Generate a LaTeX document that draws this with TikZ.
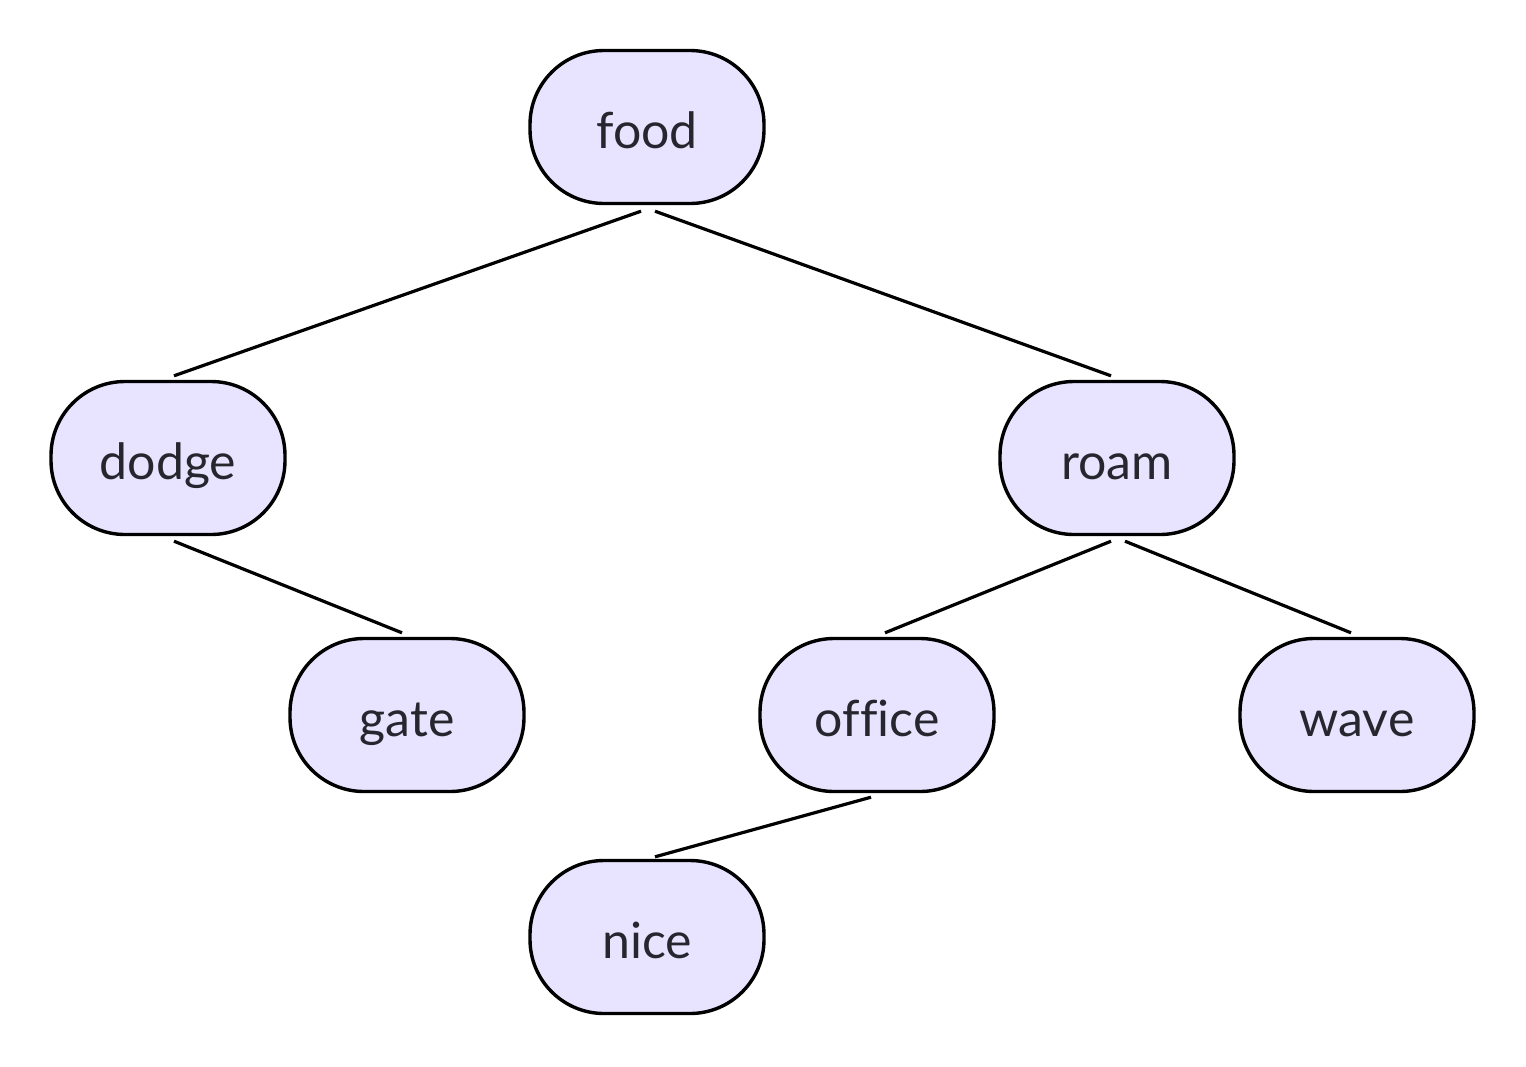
\documentclass[tikz,border=0pt]{standalone}
\usepackage{fontspec}
\setmainfont{Lato}[Ligatures=NoCommon]
\definecolor{nodefill}{HTML}{E8E3FE}
\definecolor{txt}{HTML}{26262F}
\begin{document}
\begin{tikzpicture}[x=1pt,y=-1pt,
  tnode/.style={draw=black,line width=3.4pt,fill=nodefill,rounded corners=74pt,
    minimum width=234pt,minimum height=153pt,inner sep=0pt,text=txt,
    text height=44pt,text depth=2pt,
    font=\fontsize{50}{58}\selectfont},
  edge/.style={draw=black,line width=3.2pt}]
\useasboundingbox (0,0) rectangle (1526,1066);
\node[tnode] (food) at (647,127) {food};
\node[tnode] (dodge) at (168,458) {dodge};
\node[tnode] (roam) at (1117,458) {roam};
\node[tnode] (gate) at (407,715) {gate};
\node[tnode] (office) at (877,715) {office};
\node[tnode] (wave) at (1357,715) {wave};
\node[tnode] (nice) at (647,937) {nice};
\draw[edge] ([shift={(-6,6)}]food.south) -- ([shift={(6,-4)}]dodge.north);
\draw[edge] ([shift={(8,6)}]food.south) -- ([shift={(-6,-4)}]roam.north);
\draw[edge] ([shift={(6,5)}]dodge.south) -- ([shift={(-5,-4)}]gate.north);
\draw[edge] ([shift={(-6,5)}]roam.south) -- ([shift={(8,-4)}]office.north);
\draw[edge] ([shift={(8,5)}]roam.south) -- ([shift={(-6,-4)}]wave.north);
\draw[edge] ([shift={(-6,4)}]office.south) -- ([shift={(8,-2)}]nice.north);
\end{tikzpicture}
\end{document}
